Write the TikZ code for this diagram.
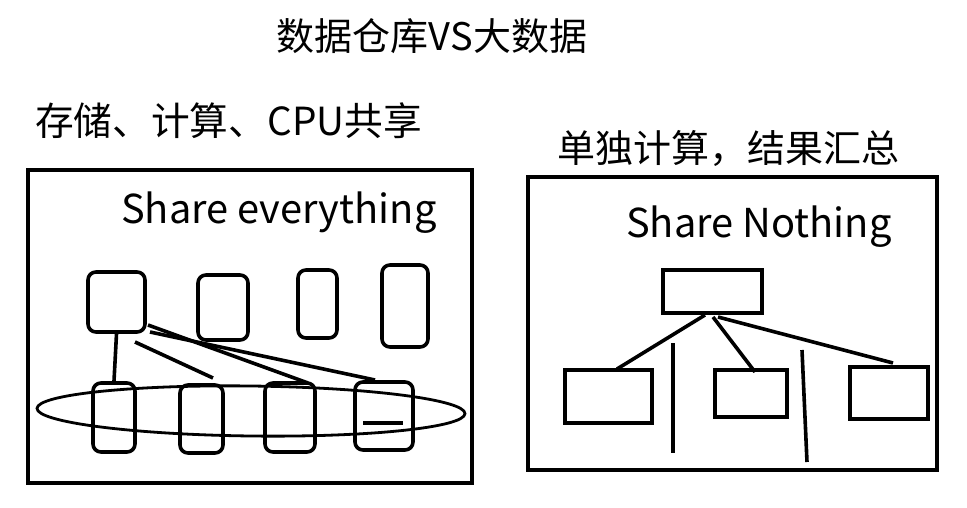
\documentclass[tikz,border=0pt]{standalone}
\usepackage{fontspec}
\setmainfont{Noto Sans CJK SC}
\usetikzlibrary{shapes.geometric}
\begin{document}
\begin{tikzpicture}[x=1pt,y=-1pt,
  frame/.style={draw, line width=4pt},
  srv/.style={draw, line width=3.6pt, rounded corners=8pt, inner sep=0pt},
  nbox/.style={draw, line width=3.6pt, inner sep=0pt},
  wire/.style={line width=3.6pt},
  txt/.style={inner sep=0pt, font=\fontsize{38pt}{40pt}\selectfont},
  ltxt/.style={inner sep=0pt, font=\fontsize{39.8pt}{42pt}\selectfont}]
\useasboundingbox (0,0) rectangle (967,508);
% titles
\node[txt, anchor=center] (title) at (432,36) {数据仓库VS大数据};
\node[txt, anchor=west, font=\fontsize{38.7pt}{40pt}\selectfont] (lt) at (35,121) {存储、计算、CPU共享};
\node[txt, anchor=west] (rt) at (557,148) {单独计算，结果汇总};
% frames
\node[frame, anchor=north west, minimum width=444pt, minimum height=313pt, inner sep=0pt] (lf) at (26,168) {};
\node[frame, anchor=north west, minimum width=409pt, minimum height=293pt, inner sep=0pt] (rf) at (526,175) {};
\node[ltxt, anchor=base west] (se) at (121,223) {Share everything};
\node[ltxt, anchor=base west] (sn) at (626,237) {Share Nothing};
% left: top servers
\node[srv, minimum width=57pt, minimum height=60pt] (a1) at (116.5,302) {};
\node[srv, minimum width=50pt, minimum height=65pt] (a2) at (223,307.5) {};
\node[srv, minimum width=39pt, minimum height=68pt] (a3) at (317.5,304) {};
\node[srv, minimum width=46pt, minimum height=82pt] (a4) at (405,306) {};
% left: bottom nodes
\node[srv, minimum width=42pt, minimum height=69pt] (b1) at (114,417.5) {};
\node[srv, minimum width=43pt, minimum height=68pt] (b2) at (201.5,419) {};
\node[srv, minimum width=50pt, minimum height=69pt] (b3) at (290,417.5) {};
\node[srv, minimum width=58pt, minimum height=68pt] (b4) at (384,416) {};
\node[draw, ellipse, line width=2.8pt, minimum width=428pt, minimum height=50pt, inner sep=0pt, rotate=-0.7] (ring) at (251,411) {};
% left connectors
\draw[wire] (a1.south) -- (b1.north);
\coordinate (s1) at (135,342);
\coordinate (e1) at (213,378);
\coordinate (s2) at (148,325);
\coordinate (e2) at (308,383);
\coordinate (s3) at (150,332);
\coordinate (e3) at (375,380);
\draw[wire] (s1) -- (e1);
\draw[wire] (s2) -- (e2);
\draw[wire] (s3) -- (e3);
\coordinate (m1) at (363,423);
\coordinate (m2) at (403,423);
\draw[wire] (m1) -- (m2);
% right: nodes
\node[nbox, minimum width=99pt, minimum height=43pt] (t) at (712.5,291.5) {};
\node[nbox, minimum width=87pt, minimum height=53pt] (n1) at (608.5,396.5) {};
\node[nbox, minimum width=72pt, minimum height=47pt] (n2) at (751,393.5) {};
\node[nbox, minimum width=78pt, minimum height=52pt] (n3) at (889,393) {};
\coordinate (t1) at (705,315);
\coordinate (t2) at (713,317);
\coordinate (t3) at (718,317);
\coordinate (q1) at (617,369);
\coordinate (q2) at (755,372);
\coordinate (q3) at (893,363);
\draw[wire] (t1) -- (q1);
\draw[wire] (t2) -- (q2);
\draw[wire] (t3) -- (q3);
\coordinate (v1a) at (673,343);
\coordinate (v1b) at (673,453);
\coordinate (v2a) at (802,350);
\coordinate (v2b) at (807,462);
\draw[wire] (v1a) -- (v1b);
\draw[wire] (v2a) -- (v2b);
\end{tikzpicture}
\end{document}
